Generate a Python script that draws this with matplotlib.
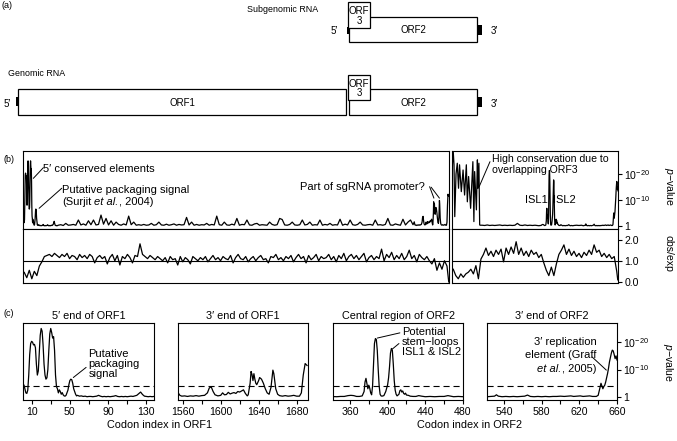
import numpy as np
import matplotlib
matplotlib.use('Agg')
import matplotlib.pyplot as plt
from matplotlib.patches import Rectangle

plt.rcParams['font.family'] = ['Liberation Sans', 'DejaVu Sans']
plt.rcParams['font.size'] = 7.5
plt.rcParams['mathtext.fontset'] = 'custom'
plt.rcParams['mathtext.rm'] = 'Liberation Sans'
plt.rcParams['mathtext.it'] = 'Liberation Sans:italic'
plt.rcParams['axes.linewidth'] = 0.8

# ---------------- data ----------------
# genome map (codon units along the genome)
orf_names = ['ORF1', 'ORF3', 'ORF2']
orf_start = [0, 1703, 1709]
orf_len = [1693, 114, 661]

# -log10(p) along ORF1: 5' end detail, coarse middle, 3' end detail
orf1_5end_codon = list(range(1, 59)) + list(range(60, 139, 2))
orf1_5end_p = [4.0, 4.4, 3.0, 1.5, 1.3, 2.5, 8.0, 15.5, 19.5, 20.3,
               20.0, 19.0, 19.2, 18.0, 12.0, 8.0, 9.5, 16.0, 22.5, 25.0,
               24.0, 19.0, 12.0, 8.0, 6.5, 7.0, 10.0, 17.0, 23.0, 25.0,
               23.5, 21.5, 22.0, 17.0, 8.0, 3.8, 3.0, 1.5, 2.6, 2.0,
               1.0, 1.6, 0.8, 0.4, 0.3, 0.6, 1.5, 2.5, 4.5, 6.0,
               6.5, 6.3, 5.0, 3.0, 2.0, 1.0, 0.4, 0.6,
               0.3, 0.4, 0.2, 0.3, 0.1, 0.2, 0.2, 0.1, 0.2, 0.3,
               0.6, 0.3, 0.1, 0.2, 0.1, 0.2, 0.1, 0.2, 0.3, 0.5,
               0.2, 0.1, 0.2, 0.1, 0.2, 0.1, 0.2, 0.3, 0.2, 0.4,
               0.6, 1.2, 1.8, 0.9, 0.3, 0.2, 0.1, 0.2, 0.1, 0.2]
orf1_mid_codon = list(range(140, 1551, 10))
orf1_mid_p = [0.3, 0.5, 0.2, 1.0, 0.3, 0.4, 0.6, 0.3, 2.3, 0.4,
              0.8, 0.3, 2.0, 0.5, 2.3, 0.4, 0.6, 4.2, 0.7, 2.9,
              0.4, 2.0, 0.3, 1.5, 0.6, 0.3, 0.8, 0.4, 3.8, 0.5,
              1.5, 0.3, 0.5, 0.3, 0.6, 0.3, 0.4, 1.0, 0.3, 0.5,
              1.5, 0.4, 0.3, 0.7, 0.3, 0.5, 0.8, 0.3, 0.6, 0.4,
              0.5, 3.3, 0.4, 1.5, 0.3, 0.6, 0.3, 0.5, 0.4, 1.0,
              0.3, 0.6, 0.4, 3.8, 0.5, 0.3, 1.5, 0.4, 0.3, 0.7,
              0.4, 2.9, 0.3, 0.6, 0.5, 2.3, 0.4, 0.3, 0.8, 1.0,
              0.3, 0.5, 0.4, 0.3, 1.5, 0.6, 0.3, 0.5, 2.9, 2.5,
              0.4, 0.3, 0.6, 1.5, 0.4, 0.3, 0.5, 2.3, 0.4, 0.6,
              1.5, 0.3, 0.5, 0.4, 2.3, 0.3, 0.6, 0.4, 1.0, 0.3,
              0.5, 0.4, 2.6, 0.3, 0.7, 0.4, 2.3, 0.5, 0.3, 0.6,
              1.5, 0.4, 0.3, 0.5, 0.6, 0.3, 2.3, 0.4, 0.5, 0.3,
              0.6, 2.9, 0.4, 0.3, 0.8, 0.5, 0.3, 2.6, 0.4, 1.5,
              2.3, 0.5]
orf1_3end_codon = [1555, 1557, 1559, 1562, 1565, 1568, 1571, 1574, 1577, 1580,
                   1583, 1586, 1588, 1590, 1592, 1594, 1597, 1600, 1602, 1604,
                   1606, 1608, 1610, 1612, 1614, 1616, 1618, 1620, 1622, 1624,
                   1626, 1628, 1629, 1631, 1632, 1633, 1634, 1635, 1636, 1637,
                   1638, 1640, 1641, 1642, 1643, 1645, 1647, 1649, 1651, 1653,
                   1655, 1656, 1658, 1660, 1662, 1665, 1668, 1671, 1674, 1677,
                   1680, 1683, 1685, 1687, 1689, 1691]
orf1_3end_p = [1.6, 0.6, 0.3, 0.4, 0.2, 0.4, 0.3, 0.5, 0.3, 0.5,
               0.6, 1.5, 3.3, 3.7, 2.0, 0.8, 0.4, 0.6, 1.5, 0.8,
               0.9, 1.7, 1.1, 1.4, 1.6, 1.3, 2.0, 1.8, 2.2, 2.6,
               1.3, 0.4, 0.8, 5.0, 9.3, 8.2, 6.0, 8.5, 6.5, 5.0,
               4.5, 6.0, 7.1, 6.8, 6.5, 5.0, 3.0, 1.5, 1.0, 3.5,
               9.8, 8.5, 3.0, 1.0, 0.5, 0.3, 0.5, 0.3, 0.4, 0.6,
               0.3, 0.3, 1.5, 8.0, 12.2, 11.5]

# -log10(p) along ORF2
orf2_5end_codon = [0, 4, 8, 11, 16, 21, 26, 30, 37, 44, 50, 57, 61, 66, 74,
                   83, 87, 90, 97, 101, 103, 107, 110, 113]
orf2_5end_p = [18.3, 30.0, 23.5, 3.6, 20.0, 24.1, 14.5, 23.5, 13.2, 21.5,
               11.9, 23.5, 9.3, 19.0, 6.8, 24.7, 1.7, 20.9, 6.2, 25.4,
               14.5, 24.1, 0.4, 0.3]
orf2_mid_codon = list(range(120, 341, 10))
orf2_mid_p = [0.3, 0.2, 0.4, 0.2, 0.3, 0.2, 0.3, 0.4, 0.2, 0.3, 0.2, 0.3,
              0.2, 0.3, 1.0, 0.3, 0.2, 0.4, 0.2, 0.3, 0.2, 0.3, 0.2]
orf2_central_codon = [342, 346, 350, 354, 358, 361, 364, 367, 370, 373,
                      375, 376, 377, 378, 379, 380, 381, 382, 383, 384,
                      385, 386, 387, 388, 389, 390, 391, 392, 393, 394,
                      396, 398, 400, 401, 402, 403, 404, 405, 406, 407,
                      408, 409, 410, 412, 413, 414, 415, 416, 417, 418,
                      419, 420, 422, 424, 427, 430, 433, 436, 440, 445,
                      450, 455, 460, 464, 467, 470, 475, 480]
orf2_central_p = [0.2, 0.1, 0.2, 0.2, 0.5, 0.6, 0.5, 0.2, 0.2, 0.4,
                  2.0, 5.5, 6.8, 5.0, 3.0, 4.3, 3.2, 1.5, 0.8, 4.0,
                  12.0, 19.5, 21.3, 21.0, 17.0, 10.0, 4.0, 1.0, 0.4, 0.3,
                  0.5, 2.0, 4.5, 7.0, 11.0, 16.0, 17.7, 17.0, 12.0, 6.0,
                  2.5, 1.0, 0.4, 1.0, 2.3, 2.6, 1.8, 2.2, 1.3, 1.0,
                  1.4, 0.7, 0.6, 0.3, 0.2, 0.2, 0.5, 0.3, 0.1, 0.2,
                  0.1, 0.2, 0.2, 0.5, 0.3, 0.1, 0.2, 0.1]
orf2_gap_codon = [485, 495, 505, 515]
orf2_gap_p = [0.2, 0.3, 0.2, 0.3]
orf2_3end_codon = [522, 526, 530, 532, 534, 538, 542, 546, 550, 554,
                   558, 562, 565, 568, 572, 576, 580, 584, 588, 592,
                   596, 600, 604, 608, 611, 614, 618, 621, 624, 628,
                   631, 634, 638, 640, 641, 642, 643, 644, 645, 646,
                   647, 648, 649, 650, 651, 652, 653, 654, 655, 656,
                   657, 658, 659, 660]
orf2_3end_p = [0.1, 0.2, 0.3, 0.8, 0.3, 0.1, 0.2, 0.1, 0.2, 0.1,
               0.2, 0.3, 0.7, 0.2, 0.1, 0.2, 0.1, 0.2, 0.1, 0.2,
               0.2, 0.3, 0.2, 0.3, 0.4, 0.2, 0.3, 0.4, 0.2, 0.3,
               0.4, 0.2, 0.2, 0.6, 2.0, 3.5, 5.0, 4.0, 3.0, 3.8,
               4.3, 5.5, 7.0, 8.6, 10.5, 12.8, 14.5, 16.0, 17.1, 16.8,
               15.5, 14.0, 15.0, 13.5]

# observed / expected synonymous variability
orf1_oe_codon = list(range(5, 1690, 10)) + [1692]
orf1_obs_exp = [0.45, 0.2, 0.55, 0.15, 0.5, 0.3, 0.75, 0.95, 1.2, 1.25,
                1.3, 1.2, 1.35, 1.25, 1.15, 1.3, 1.2, 1.35, 1.1, 1.25,
                1.2, 1.05, 1.3, 1.15, 1.25, 1.1, 1.3, 1.2, 0.9, 1.15,
                1.25, 1.1, 1.2, 0.85, 1.15, 1.3, 1.0, 1.25, 0.8, 1.2,
                1.1, 1.3, 1.15, 0.9, 1.25, 1.2, 1.8, 1.3, 1.2, 1.1,
                1.25, 1.15, 1.05, 1.2, 1.1, 1.0, 1.15, 0.9, 1.2, 1.05,
                1.1, 0.8, 1.2, 0.95, 1.15, 1.05, 0.85, 1.2, 1.1, 1.0,
                1.15, 1.05, 1.2, 0.95, 1.1, 1.25, 1.05, 1.15, 1.0, 1.2,
                1.1, 1.05, 1.25, 0.9, 1.15, 1.3, 1.1, 1.05, 1.2, 0.95,
                1.1, 1.2, 1.0, 1.15, 1.25, 1.05, 1.1, 0.9, 1.2, 1.15,
                1.3, 1.05, 1.15, 1.0, 1.2, 1.1, 1.25, 0.95, 1.15, 1.3,
                1.1, 1.2, 0.9, 1.25, 1.05, 1.15, 1.3, 1.0, 1.2, 1.1,
                1.15, 1.3, 1.05, 1.2, 0.95, 1.25, 1.1, 1.35, 1.0, 1.2,
                1.3, 1.1, 1.25, 1.05, 1.2, 1.35, 0.95, 1.15, 1.25, 1.05,
                1.2, 1.1, 1.55, 1.0, 1.3, 1.15, 1.4, 1.05, 1.25, 1.1,
                1.35, 1.05, 1.2, 1.5, 1.1, 1.25, 0.95, 1.3, 1.15, 1.05,
                1.2, 1.0, 0.85, 1.1, 0.55, 0.9, 0.6, 1.0, 0.75, 0.0]
orf2_oe_codon = list(range(5, 656, 10)) + [659]
orf2_obs_exp = [0.6, 0.3, 0.15, 0.38, 0.22, 0.38, 0.46, 0.6, 0.38, 0.77,
                0.15, 1.08, 1.3, 1.6, 1.25, 1.45, 1.2, 1.5, 1.3, 1.55,
                0.95, 1.6, 1.3, 1.65, 1.35, 1.9, 1.3, 1.6, 1.25, 1.45,
                1.2, 1.5, 1.3, 1.4, 1.15, 1.3, 0.9, 0.55, 0.3, 0.7,
                0.3, 0.85, 1.3, 1.5, 1.75, 1.3, 1.55, 1.25, 1.45, 1.2,
                1.35, 1.15, 1.4, 1.25, 1.5, 1.3, 1.75, 1.4, 1.5, 1.2,
                1.35, 1.15, 1.3, 1.1, 1.2, 0.5, 0.1]

orf1_codon = orf1_5end_codon + orf1_mid_codon + orf1_3end_codon
orf1_p = orf1_5end_p + orf1_mid_p + orf1_3end_p
orf2_codon = (orf2_5end_codon + orf2_mid_codon + orf2_central_codon
              + orf2_gap_codon + orf2_3end_codon)
orf2_p = orf2_5end_p + orf2_mid_p + orf2_central_p + orf2_gap_p + orf2_3end_p

# zoomed windows for panel (c)
c_titles = ['5\u2032 end of ORF1', '3\u2032 end of ORF1',
            'Central region of ORF2', '3\u2032 end of ORF2']
c_xlims = [(1, 138), (1555, 1692), (342, 480), (522, 660)]
c_ticks = [np.arange(10, 131, 20), np.arange(1560, 1681, 20),
           np.arange(360, 481, 20), np.arange(540, 661, 20)]
p_threshold = 4

# ---------------- figure ----------------
W, H = 677, 441
fig = plt.figure(figsize=(W / 100, H / 100), dpi=100)
renderer = fig.canvas.get_renderer()


def box(x0, y0, x1, y1):
    return [x0 / W, 1 - y1 / H, (x1 - x0) / W, (y1 - y0) / H]


def ftext(x, y, s, **kw):
    fig.text(x / W, 1 - y / H, s, **kw)


def rich_line(ax, x, y, pieces, fs, ha='left'):
    # pieces: (text, style, space_before); laid out left to right on one line
    gap = 0.278 * fs * 100 / 72
    texts, widths = [], []
    for s, style, sp in pieces:
        t = ax.text(x, y, s, style=style, va='center', ha='left', fontsize=fs)
        texts.append(t)
        widths.append(t.get_window_extent(renderer).width + (gap if sp else 0))
    xd, yd = ax.transData.transform((x, y))
    if ha == 'right':
        xd -= sum(widths)
    for t, w, (s, style, sp) in zip(texts, widths, pieces):
        if sp:
            xd += gap
            w -= gap
        t.set_x(ax.transData.inverted().transform((xd, yd))[0])
        xd += w


LW = 0.9
FS = 8          # annotation text
FT = 7.6        # ticks / titles

# ---- (a) genome map ----
axa = fig.add_axes(box(0, 0, W, 130))
axa.axis('off')
scale = 0.1937
axa.set_xlim(-18 / scale, (W - 18) / scale)
axa.set_ylim(130, 0)
rows = {'sub': dict(box=(17, 42), orf3=(2, 28), orfs=['ORF3', 'ORF2']),
        'gen': dict(box=(89, 115), orf3=(75, 100), orfs=['ORF1', 'ORF3', 'ORF2'])}
for key, row in rows.items():
    for name in row['orfs']:
        i = orf_names.index(name)
        y0, y1 = row['orf3'] if name == 'ORF3' else row['box']
        axa.add_patch(Rectangle((orf_start[i], y0), orf_len[i], y1 - y0,
                                fc='white', ec='black', lw=0.9,
                                zorder=3 if name == 'ORF3' else 2))
        if name == 'ORF3':
            axa.text(orf_start[i] + orf_len[i] / 2, (y0 + y1) / 2 + 1, 'ORF\n3',
                     ha='center', va='center', fontsize=7, linespacing=0.95, zorder=4)
        else:
            axa.text(orf_start[i] + orf_len[i] / 2, (y0 + y1) / 2 + 0.5, name,
                     ha='center', va='center', fontsize=7)
end2 = orf_start[2] + orf_len[2]
# caps at the ends
axa.add_patch(Rectangle((orf_start[2] - 10, 27), 10, 7, fc='black', ec='none'))
axa.add_patch(Rectangle((end2, 25), 26, 10, fc='black', ec='none'))
axa.add_patch(Rectangle((-10, 97), 10, 9, fc='black', ec='none'))
axa.add_patch(Rectangle((orf_len[0] - 4, 100), 10, 7, fc='black', ec='none'))
axa.add_patch(Rectangle((end2, 97), 26, 10, fc='black', ec='none'))
ftext(2, 5, '(a)', va='center', fontsize=6.5)
ftext(283, 9, 'Subgenomic RNA', ha='center', va='center', fontsize=6.4)
ftext(8, 73, 'Genomic RNA', ha='left', va='center', fontsize=6.4)
ftext(334, 31, '5\u2032', ha='center', va='center', fontsize=7)
ftext(494, 31, '3\u2032', ha='center', va='center', fontsize=7)
ftext(7, 104, '5\u2032', ha='center', va='center', fontsize=7)
ftext(494, 104, '3\u2032', ha='center', va='center', fontsize=7)

# ---- (b) whole-genome scans ----
P_LIM = (-1.15, 28.8)
OE_LIM = (-0.05, 2.5)
axb1 = fig.add_axes(box(23, 151, 449, 229))
axb2 = fig.add_axes(box(23, 229, 449, 283))
axb3 = fig.add_axes(box(452, 151, 618, 229))
axb4 = fig.add_axes(box(452, 229, 618, 283))
axb1.plot(orf1_codon, orf1_p, color='black', lw=LW)
axb2.plot(orf1_oe_codon, orf1_obs_exp, color='black', lw=LW)
axb3.plot(orf2_codon, orf2_p, color='black', lw=LW)
axb4.plot(orf2_oe_codon, orf2_obs_exp, color='black', lw=LW)
for ax in (axb1, axb2):
    ax.set_xlim(0, 1693)
for ax in (axb3, axb4):
    ax.set_xlim(0, 660)
for ax in (axb1, axb3):
    ax.set_ylim(*P_LIM)
for ax in (axb2, axb4):
    ax.set_ylim(*OE_LIM)
    ax.axhline(1.0, color='black', lw=0.8)
for ax in (axb1, axb2, axb3, axb4):
    ax.set_xticks([])
    ax.set_yticks([])
pticks = [0, 10, 20]
plabels = ['1', r'$10^{-10}$', r'$10^{-20}$']
axb3.yaxis.tick_right()
axb3.set_yticks(pticks, plabels)
axb4.yaxis.tick_right()
axb4.set_yticks([0, 1, 2], ['0.0', '1.0', '2.0'])
for ax in (axb3, axb4):
    ax.tick_params(axis='y', direction='out', length=3, width=0.8, pad=1.5,
                   labelsize=FT)
ftext(3, 160, '(b)', va='center', fontsize=6.5)
ftext(669, 186, '$p$\u2212value', rotation=-90,
      ha='center', va='center', fontsize=FT)
ftext(669, 253, 'obs/exp', rotation=-90, ha='center', va='center', fontsize=FT)

line = dict(arrowstyle='-', lw=0.7, color='black', shrinkA=0, shrinkB=0)
axb1.annotate('', xy=(41, 18.3), xytext=(81, 22.4), arrowprops=line)
axb1.text(80, 21.8, '5\u2032 conserved elements', va='center', fontsize=FS)
axb1.annotate('', xy=(64, 6.8), xytext=(154, 14.5), arrowprops=line)
axb1.text(155, 13.9, 'Putative packaging signal', va='center', fontsize=FS)
rich_line(axb1, 155, 9.3, [('(Surjit', 'normal', False),
                           ('et al.', 'italic', True),
                           (', 2004)', 'normal', False)], FS)
axb1.text(1598, 15.0, 'Part of sgRNA promoter?', ha='right', va='center',
          fontsize=FS)
axb1.annotate('', xy=(1633, 10.7), xytext=(1616, 15.1), arrowprops=line)
axb1.annotate('', xy=(1655, 10.7), xytext=(1622, 14.9), arrowprops=line)
axb3.annotate('', xy=(108, 15.1), xytext=(151, 24.7), arrowprops=line)
axb3.text(159, 23.6, 'High conservation due to\noverlapping ORF3',
          va='center', fontsize=7.6, linespacing=1.1)
axb3.text(334, 10, 'ISL1', ha='center', va='center', fontsize=FS)
axb3.text(446, 10, 'ISL2', ha='center', va='center', fontsize=FS)

# ---- (c) zoomed windows ----
c_boxes = [(23, 154), (178, 308), (333, 463), (487, 617)]
c_series = [(orf1_codon, orf1_p), (orf1_codon, orf1_p),
            (orf2_codon, orf2_p), (orf2_codon, orf2_p)]
c_axes = []
for (x0, x1), title, lim, ticks, (cx, cy) in zip(c_boxes, c_titles, c_xlims,
                                                   c_ticks, c_series):
    ax = fig.add_axes(box(x0, 323, x1, 400))
    ax.plot(cx, cy, color='black', lw=LW)
    ax.axhline(p_threshold, color='black', lw=0.8, ls=(0, (5.5, 3.5)))
    ax.set_xlim(*lim)
    ax.set_ylim(-1.1, 27)
    ax.set_yticks([])
    ax.set_xticks(ticks, [str(t) if k % 2 == 0 else '' for k, t in enumerate(ticks)])
    ax.tick_params(axis='x', direction='out', length=3, width=0.8, pad=2,
                   labelsize=FT)
    ax.set_title(title, fontsize=7.8, pad=3)
    c_axes.append(ax)
ax4 = c_axes[3]
ax4.yaxis.tick_right()
ax4.set_yticks(pticks, plabels)
ax4.tick_params(axis='y', direction='out', length=3, width=0.8, pad=1.5,
                labelsize=FT)
ftext(668, 362, '$p$\u2212value', rotation=-90, ha='center', va='center',
      fontsize=FT)
ftext(3, 314, '(c)', va='center', fontsize=6.5)
ftext(160, 425, 'Codon index in ORF1', ha='center', va='center', fontsize=7.8)
ftext(469, 425, 'Codon index in ORF2', ha='center', va='center', fontsize=7.8)

c_axes[0].annotate('', xy=(53.6, 7.1), xytext=(67, 10.8), arrowprops=line)
c_axes[0].text(69.5, 12.2, 'Putative\npackaging\nsignal', va='center',
               fontsize=FS, linespacing=1.0)
c_axes[2].annotate('', xy=(389, 21.5), xytext=(413, 23.4), arrowprops=line)
c_axes[2].annotate('', xy=(405, 17.5), xytext=(412, 19.5), arrowprops=line)
c_axes[2].text(415, 20.1, 'Potential\nstem\u2212loops\nISL1 & ISL2', va='center',
               fontsize=FS, linespacing=1.0)
c_axes[3].annotate('', xy=(648.7, 9.8), xytext=(633.6, 14.6), arrowprops=line)
c_axes[3].text(638, 20.1, '3\u2032 replication', ha='right', va='center',
               fontsize=FS)
c_axes[3].text(638, 15.2, 'element (Graff', ha='right', va='center',
               fontsize=FS)
rich_line(c_axes[3], 638, 10.3, [('et al.', 'italic', False),
                                 (', 2005)', 'normal', False)], FS, ha='right')

fig.savefig('out.png', dpi=100)
